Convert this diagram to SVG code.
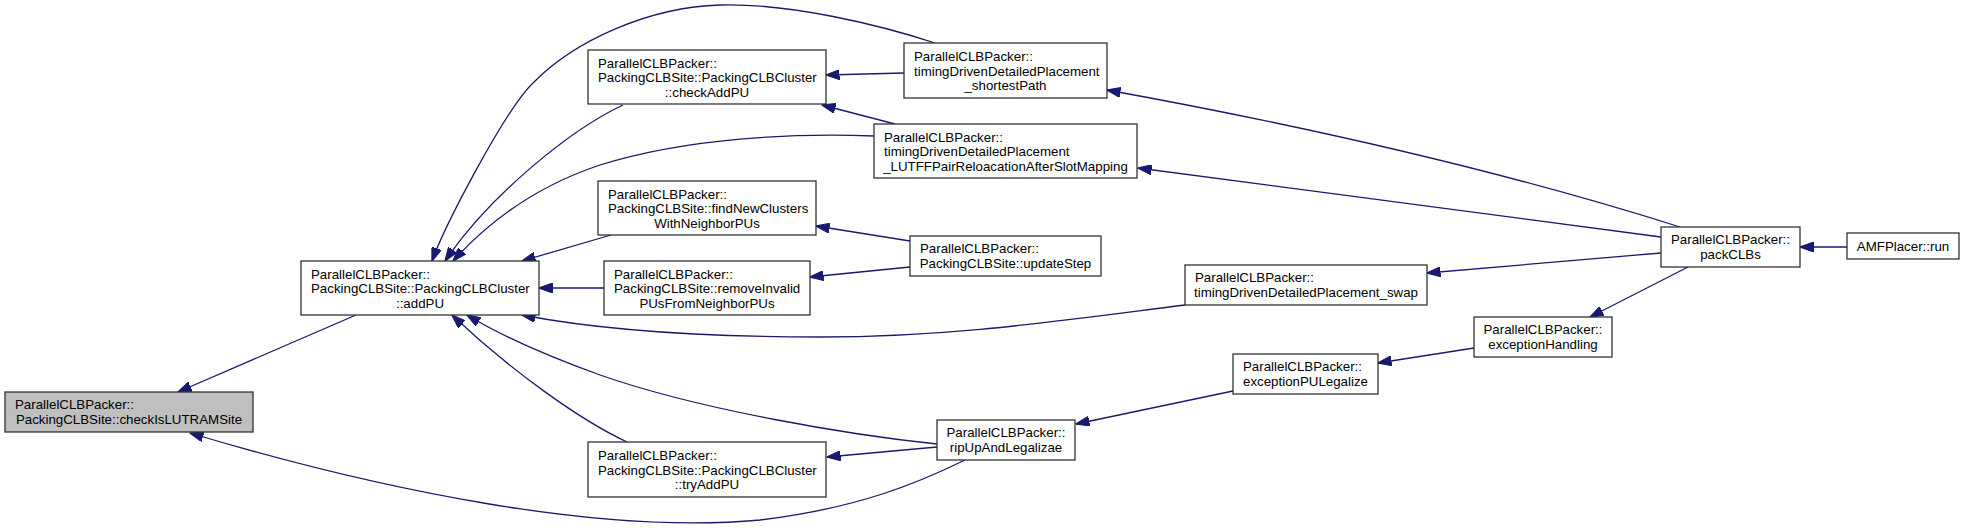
<svg xmlns="http://www.w3.org/2000/svg" width="1964" height="528" viewBox="0 0 1964 528">
<defs>
<style>
.nd rect{fill:#ffffff;stroke:#333333;stroke-width:1.3}
.nd.hl rect{fill:#bfbfbf}
.nd text{font-family:"Liberation Sans",Arial,Helvetica,sans-serif;font-size:13.3px;fill:#000000}
.nd text.c{text-anchor:middle}
#edges path{fill:none;stroke:#191970;stroke-width:1.3;marker-end:url(#ah)}
</style>
<marker id="ah" viewBox="0 0 14 10" refX="13.5" refY="5" markerWidth="14" markerHeight="10" markerUnits="userSpaceOnUse" orient="auto">
<path d="M0,0 L14,5 L0,10 z" fill="#191970" stroke="#191970" stroke-width="1"/>
</marker>
</defs>
<rect x="0" y="0" width="1964" height="528" fill="#ffffff"/>
<g id="edges">
<path d="M356,315 L178,392"/>
<path d="M965,460 C920,482 860,508 760,520 C600,535 380,490 190,433"/>
<path d="M623,105 C570,130 490,195 445,261"/>
<path d="M935,43 C880,25 790,3 720,5 C650,7 575,40 533,83 C505,110 445,225 432,261"/>
<path d="M874,136 C800,133 690,137 600,165 C540,185 490,220 453,261"/>
<path d="M611,235 L522,261"/>
<path d="M604,288 L539,288"/>
<path d="M1185,305 C1050,322 950,337 820,337 C700,337 600,330 522,315"/>
<path d="M937,444 C850,435 700,410 600,375 C550,357 500,335 467,315"/>
<path d="M627,442 C580,420 510,370 452,315"/>
<path d="M904,73 L826,75"/>
<path d="M895,124 L822,105"/>
<path d="M910,241 L816,226"/>
<path d="M910,267 L810,277"/>
<path d="M937,447 L827,457"/>
<path d="M1680,227 C1500,170 1300,125 1107,90"/>
<path d="M1661,237 L1138,168"/>
<path d="M1661,253 L1427,273"/>
<path d="M1688,267 L1590,317"/>
<path d="M1474,348 L1378,363"/>
<path d="M1233,391 L1076,424"/>
<path d="M1847,247 L1800,247"/>
</g>
<g id="n_checkIsLUTRAMSite" class="nd hl">
<rect x="5" y="392" width="248" height="40"/>
<text x="15" y="409">ParallelCLBPacker::</text>
<text class="c" x="129" y="423.5">PackingCLBSite::checkIsLUTRAMSite</text>
</g>
<g id="n_addPU" class="nd">
<rect x="301" y="261" width="238" height="54"/>
<text x="311" y="278.5">ParallelCLBPacker::</text>
<text x="311" y="293">PackingCLBSite::PackingCLBCluster</text>
<text class="c" x="420" y="307.5">::addPU</text>
</g>
<g id="n_checkAddPU" class="nd">
<rect x="588" y="50" width="238" height="54"/>
<text x="598" y="67.5">ParallelCLBPacker::</text>
<text x="598" y="82">PackingCLBSite::PackingCLBCluster</text>
<text class="c" x="707" y="96.5">::checkAddPU</text>
</g>
<g id="n_shortestPath" class="nd">
<rect x="904" y="43" width="203" height="55"/>
<text x="914" y="61">ParallelCLBPacker::</text>
<text x="914" y="75.5">timingDrivenDetailedPlacement</text>
<text class="c" x="1005.5" y="90">_shortestPath</text>
</g>
<g id="n_LUTFF" class="nd">
<rect x="874" y="124" width="263" height="54"/>
<text x="884" y="141.5">ParallelCLBPacker::</text>
<text x="884" y="156">timingDrivenDetailedPlacement</text>
<text class="c" x="1005.5" y="170.5">_LUTFFPairReloacationAfterSlotMapping</text>
</g>
<g id="n_findNewClusters" class="nd">
<rect x="598" y="181" width="218" height="54"/>
<text x="608" y="198.5">ParallelCLBPacker::</text>
<text x="608" y="213">PackingCLBSite::findNewClusters</text>
<text class="c" x="707" y="227.5">WithNeighborPUs</text>
</g>
<g id="n_updateStep" class="nd">
<rect x="910" y="236" width="191" height="40"/>
<text x="920" y="253">ParallelCLBPacker::</text>
<text class="c" x="1005.5" y="267.5">PackingCLBSite::updateStep</text>
</g>
<g id="n_removeInvalid" class="nd">
<rect x="604" y="261" width="206" height="54"/>
<text x="614" y="278.5">ParallelCLBPacker::</text>
<text x="614" y="293">PackingCLBSite::removeInvalid</text>
<text class="c" x="707" y="307.5">PUsFromNeighborPUs</text>
</g>
<g id="n_swap" class="nd">
<rect x="1185" y="265" width="242" height="40"/>
<text x="1195" y="282">ParallelCLBPacker::</text>
<text class="c" x="1306" y="296.5">timingDrivenDetailedPlacement_swap</text>
</g>
<g id="n_tryAddPU" class="nd">
<rect x="588" y="442" width="238" height="55"/>
<text x="598" y="460">ParallelCLBPacker::</text>
<text x="598" y="474.5">PackingCLBSite::PackingCLBCluster</text>
<text class="c" x="707" y="489">::tryAddPU</text>
</g>
<g id="n_ripUp" class="nd">
<rect x="937" y="420" width="138" height="40"/>
<text class="c" x="1006" y="437">ParallelCLBPacker::</text>
<text class="c" x="1006" y="451.5">ripUpAndLegalizae</text>
</g>
<g id="n_exceptionPULegalize" class="nd">
<rect x="1233" y="354" width="145" height="40"/>
<text x="1243" y="371">ParallelCLBPacker::</text>
<text class="c" x="1305.5" y="385.5">exceptionPULegalize</text>
</g>
<g id="n_exceptionHandling" class="nd">
<rect x="1474" y="317" width="138" height="40"/>
<text class="c" x="1543" y="334">ParallelCLBPacker::</text>
<text class="c" x="1543" y="348.5">exceptionHandling</text>
</g>
<g id="n_packCLBs" class="nd">
<rect x="1661" y="227" width="139" height="40"/>
<text class="c" x="1730.5" y="244">ParallelCLBPacker::</text>
<text class="c" x="1730.5" y="258.5">packCLBs</text>
</g>
<g id="n_AMFPlacer_run" class="nd">
<rect x="1847" y="233" width="112" height="26"/>
<text class="c" x="1903" y="250.5">AMFPlacer::run</text>
</g>
</svg>
